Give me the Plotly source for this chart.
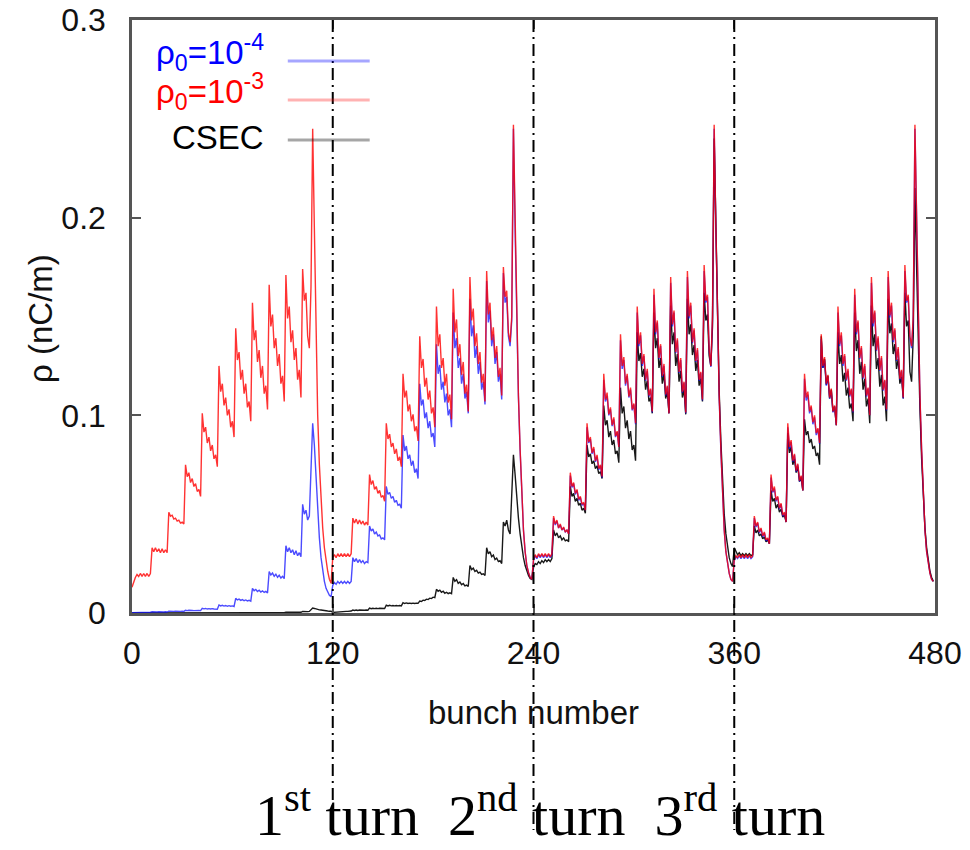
import plotly.graph_objects as go

# Electron-cloud line density per bunch, in units of 1e-3 nC/m.
# Each turn holds 120 bunches: a lead-in (12), nine trains of 10, a short
# last train (5) and the gap where the cloud decays (13).

# --- seed density rho0 = 1e-3 -------------------------------------------
p3_turn1 = [
    13, 16, 18, 19.5, 18.5, 20, 18.5, 20, 18.5, 20, 18.5, 20,
    33, 31, 33, 31, 32.5, 30.5, 32.5, 30.5, 32, 30.5,
    51, 49, 49.5, 47.5, 48, 46.5, 47, 45.5, 46, 45,
    75, 69, 71, 66, 68, 64, 65.5, 61.5, 62.5, 59,
    101, 91.5, 94, 86, 89, 82, 85, 78, 80, 74,
    125, 112, 116, 105, 109, 100, 103, 94, 97, 89,
    144, 128, 132, 118, 123, 111, 116, 104, 107, 97,
    157, 138, 143, 127, 133, 119, 125, 111, 115, 103,
    166, 145, 151, 134, 139, 125, 131, 116, 120, 107,
    171, 149, 155, 137, 143, 128, 134, 118, 123, 109,
    174, 158, 162, 140, 134,
    165, 245, 195, 145, 100, 75, 57, 43, 33, 26, 21, 17, 15,
]
p3_turn2 = [
    28, 29.5, 28, 30, 28.5, 30, 28.5, 30, 28.5, 30, 28.5, 30,
    48, 45.5, 47.5, 45, 47, 45, 46.5, 44.5, 46, 44.5,
    70, 65, 67, 62.5, 64, 60.5, 62, 58.5, 59.5, 56.5,
    96, 88, 90.5, 84, 86, 80.5, 83, 77, 79, 74,
    121, 109, 112.5, 102, 105.5, 97, 100.5, 92, 94.5, 87,
    140, 124, 128.5, 114.5, 119, 108, 112.5, 101, 104, 94,
    155, 135, 141, 124, 129, 115, 121, 106.5, 110.5, 98,
    164, 142, 148.5, 130, 136, 120.5, 127, 111, 115.5, 102,
    170, 148, 154, 135, 141.5, 126, 132, 116.5, 121, 107,
    173, 151, 157, 138, 144.5, 129, 135, 119.5, 124, 110,
    175, 160, 163, 142, 137,
    150, 247, 196, 145, 110, 83, 60, 42, 31, 24, 20.5, 18, 17,
]
p3_turn3 = [
    27, 29.5, 28, 30, 28.5, 30, 28.5, 30, 28.5, 30, 28.5, 30,
    49, 45, 47, 43, 45, 42, 43.5, 41, 42, 40,
    71, 64, 66, 60.5, 62.5, 57.5, 59, 55, 56, 52,
    96, 86.5, 89, 81, 84, 77, 80, 73, 75, 69,
    121, 108, 111.5, 100.5, 104, 95, 99, 89.5, 92, 84,
    141, 125, 129.5, 116, 121, 109.5, 114, 103, 106, 96,
    155, 136, 142, 126, 131, 118, 123.5, 110, 113.5, 102,
    164, 142, 148, 129, 136, 120, 126, 110.5, 115, 101,
    170, 146, 153, 132, 139, 122, 129, 112, 117, 101.5,
    173, 150, 157, 137, 144, 127.5, 134, 118, 122, 108,
    176, 158, 161, 133, 125,
    150, 247, 196, 145, 110, 83, 60, 42, 31, 24, 20, 17, 16,
]
p3_turn4 = [
    27, 29, 28, 29.5, 28, 29.5, 28, 29.5, 28, 29.5, 28, 29,
    49, 44, 46, 41, 43, 39, 41, 37, 38, 35,
    70, 61.5, 64, 57, 59, 53, 55.5, 49.5, 51, 46,
    96, 84, 87.5, 77, 80.5, 72, 75.5, 67, 69.5, 62,
    121, 109, 112, 102, 105, 96.5, 100, 91, 93.5, 86,
    141, 125, 129.5, 116, 120.5, 109, 113.5, 102, 105, 95,
    155, 136, 142, 126, 131, 118, 123.5, 110, 113.5, 102,
    164, 142, 148, 129, 135, 119, 126, 110, 114, 100,
    170, 146.5, 153, 133, 140, 123, 130, 113, 118, 103,
    173, 150.5, 157, 138, 144, 128, 134.5, 118.5, 123, 109,
    176, 158, 161, 140, 135,
    150, 247, 196, 145, 110, 83, 60, 42, 31, 24, 20, 17, 16,
]

# --- seed density rho0 = 1e-4 -------------------------------------------
p4_turn1 = [
    0.1, 0.1, 0.2, 0.2, 0.2, 0.3, 0.3, 0.3, 0.3, 0.4, 0.4, 0.4,
    0.6, 0.5, 0.6, 0.5, 0.6, 0.5, 0.6, 0.5, 0.6, 0.5,
    0.9, 0.8, 0.9, 0.8, 0.9, 0.8, 0.9, 0.8, 0.9, 0.8,
    1.4, 1.2, 1.4, 1.2, 1.3, 1.2, 1.3, 1.2, 1.3, 1.2,
    2.4, 2.1, 2.3, 2.0, 2.2, 2.0, 2.2, 2.0, 2.1, 1.9,
    4.1, 3.6, 3.9, 3.5, 3.8, 3.4, 3.7, 3.4, 3.6, 3.3,
    7.4, 6.6, 7.0, 6.4, 6.8, 6.2, 6.6, 6.1, 6.4, 6.0,
    12.5, 11.3, 11.9, 10.9, 11.5, 10.6, 11.2, 10.4, 10.9, 10.2,
    21, 19.2, 20.2, 18.6, 19.6, 18.1, 19.1, 17.7, 18.6, 17.4,
    34, 31, 33, 30.5, 32, 29.5, 31.5, 29, 30.5, 28.5,
    55, 50, 52, 47, 49,
    70, 96, 85, 68, 52, 38, 28, 21, 16, 12.5, 10.5, 9, 8.3,
]
p4_turn2 = [
    14, 15.5, 14.5, 16, 15, 16, 15, 16, 15, 16, 15, 16,
    28, 26, 27.5, 25.5, 27, 25.5, 26.5, 25, 26, 25.5,
    44, 41.5, 42.5, 40, 41, 39, 39.5, 37.5, 38, 37,
    64, 60, 61, 58, 59, 56, 57, 54.5, 55, 53,
    90, 82, 84.5, 78, 80, 74.5, 77, 71, 73, 68,
    116, 105, 108, 98.5, 101.5, 93.5, 97, 89, 91, 84,
    136, 121, 125.5, 113, 117, 106.5, 111, 100, 103, 94,
    152, 134, 139, 124, 129, 116, 121, 108.5, 112, 101,
    159, 140, 145.5, 129, 135, 121, 127, 113, 117, 105.5,
    168, 147, 153, 135, 141, 126, 132, 117, 121, 108,
    172, 157, 160, 140, 135,
    148, 245, 194, 144, 109, 82, 60, 42, 31, 24, 20.5, 18, 17,
]
p4_turn3 = [
    26.5, 29, 27.5, 29.5, 28, 29.5, 28, 29.5, 28, 29.5, 28, 29.5,
    48, 44.5, 46.5, 43, 44.5, 42, 43, 41, 42, 40,
    69.5, 63.5, 65.5, 60, 62, 57, 58.5, 54.5, 55.5, 52,
    94, 86, 88, 80.5, 83, 76.5, 79, 72.5, 74.5, 68.5,
    118, 107, 110, 100, 103, 94.5, 98, 89, 91.5, 84,
    138, 123.5, 128, 115, 120, 109, 113, 102.5, 105.5, 95.5,
    152, 135, 140.5, 125, 130, 117.5, 122.5, 109.5, 113, 101.5,
    161, 141, 147, 128.5, 135, 119.5, 125, 110, 114.5, 101,
    167, 145, 152, 131.5, 138, 121.5, 128, 111.5, 116.5, 101,
    170, 149, 155.5, 136.5, 143, 127, 133, 117.5, 121.5, 107.5,
    173, 157, 160, 132.5, 124.5,
    148, 245, 195, 144, 109, 82, 60, 42, 31, 24, 20, 17, 16,
]
p4_turn4 = [
    26.5, 28.5, 27.5, 29, 27.5, 29, 27.5, 29, 27.5, 29, 27.5, 28.5,
    48, 43.5, 45.5, 40.5, 42.5, 38.5, 40.5, 36.5, 37.5, 35,
    68.5, 61, 63, 56.5, 58.5, 52.5, 55, 49, 50.5, 46,
    94, 83, 86.5, 76.5, 80, 71.5, 75, 66.5, 69, 62,
    118.5, 107.5, 110.5, 101, 104, 95.5, 99, 90, 93, 85.5,
    138.5, 124, 128, 115, 119.5, 108.5, 112.5, 101.5, 104.5, 95,
    152, 135, 140.5, 125, 130, 117.5, 122.5, 109.5, 113, 101.5,
    161, 141, 147, 128.5, 134, 118.5, 125, 109.5, 113.5, 100,
    167, 145, 152, 132.5, 139, 122.5, 129, 112.5, 117.5, 102.5,
    170, 149.5, 155.5, 137, 143, 127.5, 133.5, 118, 122.5, 108.5,
    173, 157, 160, 139, 134,
    148, 245, 195, 144, 109, 82, 60, 42, 31, 24, 20, 17, 16,
]

# --- CSEC model -----------------------------------------------------------
csec_turn1 = [
    0, 0, 0, 0, 0, 0, 0, 0, 0, 0, 0, 0,
    0, 0, 0, 0, 0, 0, 0, 0, 0, 0,
    0, 0, 0, 0, 0, 0, 0, 0, 0, 0,
    0.05, 0.05, 0.05, 0.05, 0.05, 0.05, 0.05, 0.05, 0.05, 0.05,
    0.05, 0.05, 0.05, 0.05, 0.05, 0.05, 0.05, 0.05, 0.05, 0.05,
    0.1, 0.1, 0.1, 0.1, 0.1, 0.1, 0.1, 0.1, 0.1, 0.1,
    0.1, 0.1, 0.1, 0.1, 0.1, 0.1, 0.1, 0.1, 0.1, 0.1,
    0.15, 0.15, 0.15, 0.15, 0.15, 0.15, 0.15, 0.15, 0.15, 0.15,
    0.25, 0.2, 0.25, 0.2, 0.25, 0.2, 0.25, 0.2, 0.25, 0.2,
    0.4, 0.35, 0.4, 0.35, 0.4, 0.35, 0.4, 0.35, 0.4, 0.35,
    0.8, 0.7, 0.8, 0.7, 0.8,
    1.5, 2.5, 2.3, 2.0, 1.8, 1.6, 1.5, 1.3, 1.2, 1.1, 1.0, 0.9, 0.9,
]
csec_turn2 = [
    0.3, 0.4, 0.5, 0.5, 0.6, 0.6, 0.7, 0.7, 0.8, 0.8, 0.9, 1.0,
    1.5, 1.3, 1.5, 1.3, 1.5, 1.4, 1.5, 1.4, 1.5, 1.4,
    2.5, 2.2, 2.4, 2.2, 2.4, 2.2, 2.4, 2.3, 2.4, 2.3,
    4.0, 3.6, 3.9, 3.6, 3.8, 3.6, 3.8, 3.6, 3.8, 3.6,
    5.2, 4.8, 5.1, 4.8, 5.0, 4.8, 5.0, 4.8, 5.0, 4.9,
    6.0, 5.8, 6.5, 6.3, 7.0, 6.8, 7.5, 7.3, 8.0, 7.8,
    12, 11, 11.5, 10.5, 11, 10, 10.5, 9.8, 10.2, 9.8,
    18, 16, 16.8, 15, 15.7, 14.3, 14.9, 13.7, 14.1, 13.4,
    24, 22, 22.7, 21, 21.6, 20.2, 20.7, 19.5, 19.8, 19,
    33, 30, 31, 28.5, 29.3, 27, 27.8, 26, 26.5, 25,
    46, 44, 47, 42, 40,
    60, 80, 70, 58, 48, 40, 33, 28, 24, 21, 19, 17.5, 17,
]
csec_turn3 = [
    23, 25, 24.5, 26, 25, 26.5, 25.5, 27, 26, 27, 26, 27.5,
    42, 39, 40.5, 38, 39, 37, 38, 36.5, 37, 36,
    64, 59, 60.5, 56.5, 58, 54.5, 55.5, 52, 53, 50.5,
    85, 79, 80.5, 75.5, 77, 73, 74.5, 70.5, 71.5, 68,
    105, 95, 97.5, 89, 92, 85, 87.5, 80.5, 82, 76,
    114, 101, 104.5, 93.5, 97.5, 88, 92, 82.5, 85, 77,
    142, 127.5, 131.5, 119.5, 123.5, 113, 117.5, 107, 109, 101,
    152, 134, 139, 124, 129, 116, 121, 108.5, 112, 101,
    155.5, 136, 142, 125, 131, 117, 122.5, 109, 113, 100.5,
    159, 141, 146, 130.5, 135.5, 122.5, 128, 115, 118.5, 107,
    162, 148, 151, 130, 125,
    145, 240, 192, 145, 112, 87, 66, 50, 40, 33, 28, 25, 23.5,
]
csec_turn4 = [
    33, 31, 29.5, 30.5, 29, 30, 29, 30, 29, 30, 29, 29.5,
    44, 40.5, 42, 39, 40, 37.5, 38.5, 36, 37, 35,
    62, 56.5, 58, 53, 55, 51, 52.5, 48.5, 49.5, 46,
    91, 81, 84, 75, 78, 71, 74, 66.5, 68.5, 62,
    98, 90, 92, 86, 88, 83, 84.5, 79.5, 81, 75,
    140, 124, 128.5, 115.5, 120, 108.5, 113, 102, 104.5, 95,
    142, 126, 130.5, 117, 121.5, 110, 114, 103.5, 106, 97,
    152, 132.5, 138, 121, 127, 113, 118.5, 104.5, 108.5, 96,
    155.5, 135, 141, 123.5, 129, 114.5, 120.5, 105, 109.5, 97,
    159, 141.5, 146.5, 131, 136, 123.5, 128.5, 116, 119.5, 108.5,
    162, 145, 148, 122, 117,
    140, 215, 175, 135, 103, 78, 58, 43, 33, 26, 21, 18, 16,
]

TURN_LEN = 120
turn_bounds = [120, 240, 360]
x_ticks = [0, 120, 240, 360, 480]
y_ticks = [0, 0.1, 0.2, 0.3]
y_tick_text = ["0", "0.1", "0.2", "0.3"]
X_MAX = 480
Y_MAX = 0.3
MILLI = 1e-3  # stored values are in 1e-3 nC/m

series = [
    ("CSEC", [csec_turn1, csec_turn2, csec_turn3, csec_turn4], "#000000", 0.9),
    ("rho0=1e-4", [p4_turn1, p4_turn2, p4_turn3, p4_turn4], "#0000ff", 0.7),
    ("rho0=1e-3", [p3_turn1, p3_turn2, p3_turn3, p3_turn4], "#ff0000", 0.8),
]

fig = go.Figure()
for name, turns, color, alpha in series:
    for t in turns:
        assert len(t) == TURN_LEN, (name, len(t))
    vals = [v * MILLI for t in turns for v in t]
    fig.add_trace(go.Scatter(
        x=list(range(len(vals))), y=vals, mode="lines", name=name,
        line=dict(color=color, width=1.4), opacity=alpha,
        showlegend=False, hoverinfo="skip",
    ))

FRAME = "#555555"
sans = "Liberation Sans, Arial, sans-serif"
axis_common = dict(
    ticks="inside", ticklen=9, tickwidth=2, tickcolor=FRAME,
    showline=True, linecolor=FRAME, linewidth=2.5, mirror="ticks",
    showgrid=False, zeroline=False, automargin=False,
    tickfont=dict(family=sans, size=32, color="#111111"),
)
fig.update_xaxes(range=[0, X_MAX], tickvals=x_ticks, ticklabelstandoff=10, **axis_common)
fig.update_yaxes(range=[0, Y_MAX], tickvals=y_ticks, ticktext=y_tick_text,
                 ticklabelstandoff=17, **axis_common)

# Plot area: 20 px to 613 px from the top of the 850 px page
PLOT_TOP, PLOT_BOTTOM = 20, 613
PLOT_H = PLOT_BOTTOM - PLOT_TOP


def py(pixel_y):
    """Paper coordinate for a vertical page position given in pixels."""
    return (PLOT_BOTTOM - pixel_y) / PLOT_H


# Turn boundaries, running from the top of the frame down to the turn labels
dashdot = dict(color="black", width=2, dash="12px,5px,2px,5px")
for xb in turn_bounds:
    fig.add_shape(type="line", xref="paper", yref="paper",
                  x0=xb / X_MAX, x1=xb / X_MAX, y0=1.0, y1=py(830), line=dashdot)

# Legend: coloured label on the left, pale sample line on the right
legend_rows = [
    ("ρ<sub>0</sub>=10<sup>-4</sup>", "#0000ff", "rgba(0,0,255,0.35)", 61, 52),
    ("ρ<sub>0</sub>=10<sup>-3</sup>", "#ff0000", "rgba(255,0,0,0.3)", 100, 92),
    ("CSEC", "#000000", "rgba(0,0,0,0.35)", 140, 137),
]
for label, tcolor, lcolor, line_y, text_y in legend_rows:
    fig.add_annotation(text=label, xref="paper", yref="paper", x=0.167, y=py(text_y),
                       xanchor="right", yanchor="middle", showarrow=False,
                       font=dict(family=sans, size=33, color=tcolor))
    fig.add_shape(type="line", xref="paper", yref="paper",
                  x0=0.194, x1=0.296, y0=py(line_y), y1=py(line_y),
                  line=dict(color=lcolor, width=3))

fig.add_annotation(text="ρ (nC/m)", xref="paper", yref="paper", x=-0.1146, y=py(318),
                   textangle=-90, showarrow=False, xanchor="center", yanchor="middle",
                   font=dict(family=sans, size=33, color="#111111"))
fig.add_annotation(text="bunch number", xref="paper", yref="paper", x=0.4994, y=py(712),
                   showarrow=False, xanchor="center", yanchor="middle",
                   font=dict(family=sans, size=33, color="#111111"))

# Turn labels along the bottom edge, box resting on the page bottom
nb = "\u00a0"
turn_text = f"1<sup>st</sup> turn{nb}{nb}2<sup>nd</sup> turn{nb}{nb}3<sup>rd</sup> turn"
fig.add_annotation(text=turn_text, xref="paper", yref="paper", x=0.508, y=py(849),
                   showarrow=False, xanchor="center", yanchor="bottom", borderpad=0,
                   font=dict(family="Liberation Serif, Times New Roman, serif", size=58,
                             color="#000000"))

fig.update_layout(
    width=970, height=850,
    margin=dict(l=132, r=35, t=PLOT_TOP, b=850 - PLOT_BOTTOM),
    plot_bgcolor="white", paper_bgcolor="white",
    showlegend=False,
)

fig.write_html("out.html")
